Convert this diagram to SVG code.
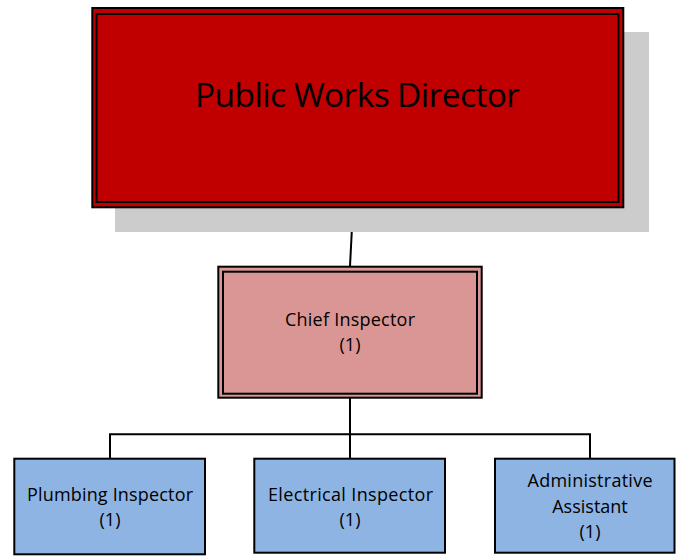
<svg xmlns="http://www.w3.org/2000/svg" width="676" height="556" viewBox="0 0 676 556">
  <style>
    .lbl { font-family: "Open Sans", "Noto Sans", sans-serif; font-size: 18px; fill: #000; text-anchor: middle; }
    .big { font-family: "Open Sans", "Noto Sans", sans-serif; font-size: 33.5px; fill: #000; text-anchor: middle; }
    .edge { fill: none; stroke: #000; stroke-width: 2; }
    .frame { fill: none; stroke: #000; stroke-width: 2; }
    .staff { fill: #8EB4E3; stroke: #000; stroke-width: 2; }
  </style>
  <rect width="676" height="556" fill="#FFFFFF"/>

  <!-- connectors -->
  <g id="connectors">
    <line class="edge" x1="353" y1="208" x2="350" y2="266"/>
    <line class="edge" x1="350" y1="398" x2="350" y2="458"/>
    <polyline class="edge" points="110,458 110,434.3 590,434.3 590,458"/>
  </g>

  <!-- director -->
  <g id="director">
    <rect x="115" y="32" width="534" height="200" fill="#CCCCCC"/>
    <rect x="92.3" y="8" width="531" height="199.3" fill="#C00000" stroke="#000" stroke-width="2"/>
    <rect class="frame" x="96.5" y="14" width="522" height="188"/>
    <text class="big" x="357.5" y="106.5" textLength="325">Public Works Director</text>
  </g>

  <!-- chief inspector -->
  <g id="chief">
    <rect x="218.3" y="266.7" width="263.4" height="131" fill="#D99694" stroke="#000" stroke-width="2"/>
    <rect class="frame" x="223" y="271.7" width="254" height="122"/>
    <text class="lbl" x="350" y="326" textLength="130">Chief Inspector</text>
    <text class="lbl" x="350" y="350.5">(1)</text>
  </g>

  <!-- staff -->
  <g id="plumbing">
    <rect class="staff" x="14.3" y="458.7" width="190.7" height="95.6"/>
    <text class="lbl" x="110" y="501" textLength="166">Plumbing Inspector</text>
    <text class="lbl" x="110" y="525.5">(1)</text>
  </g>
  <g id="electrical">
    <rect class="staff" x="254.3" y="458.7" width="190.7" height="94"/>
    <text class="lbl" x="350.5" y="501" textLength="165">Electrical Inspector</text>
    <text class="lbl" x="350" y="525.5">(1)</text>
  </g>
  <g id="admin">
    <rect class="staff" x="495" y="458.7" width="179.5" height="94"/>
    <text class="lbl" x="590" y="487" textLength="125">Administrative</text>
    <text class="lbl" x="590" y="512.5">Assistant</text>
    <text class="lbl" x="590" y="538">(1)</text>
  </g>
</svg>
